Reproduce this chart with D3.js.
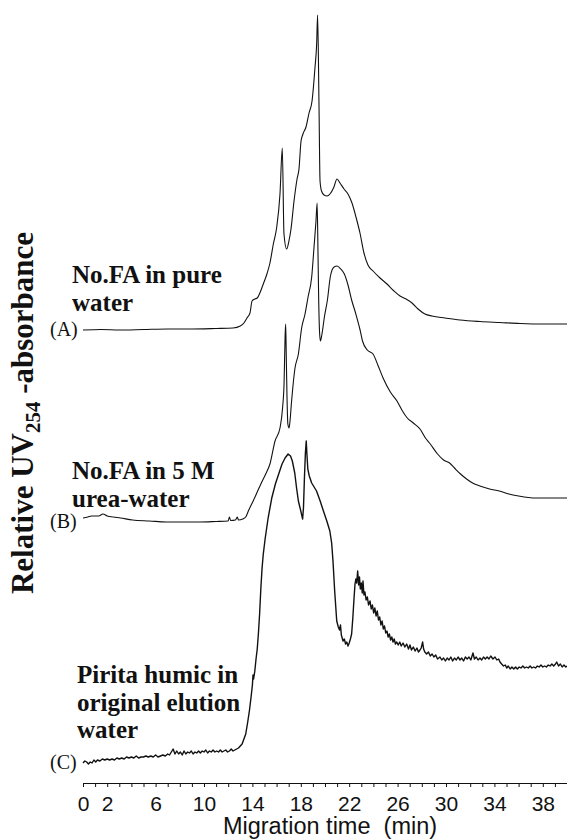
<!DOCTYPE html>
<html>
<head>
<meta charset="utf-8">
<script src="https://cdn.jsdelivr.net/npm/d3@7"></script>
<style>
  html, body { margin: 0; padding: 0; background: #fff; }
  svg { display: block; }
</style>
</head>
<body>
<svg id="chart" width="567" height="839"></svg>
<script>
// Electropherograms: [migration time (min), relative UV254 signal above each trace's own baseline]
const traceA = [
  [0,0],[1.5,0.5],[3,0],[5,0.5],[7,1],[9,1],[11,1.5],[12.4,2],[13.0,4],[13.3,7],[13.55,12],[13.8,17],
  [13.97,29],[14.2,31],[14.4,32],[14.65,38],[14.9,46],[15.2,56],[15.45,67],[15.73,86],[16.0,102],
  [16.28,136],[16.47,182],[16.61,96],[16.83,81],[17.02,89],[17.19,101],[17.44,129],[17.69,151],
  [17.85,161],[18.02,189],[18.18,196],[18.43,203],[18.68,217],[18.93,229],[19.17,262],[19.31,286],
  [19.39,315],[19.5,229],[19.59,149],[19.71,139],[19.92,135],[20.17,134],[20.41,136],[20.74,143],
  [20.99,151],[21.24,147],[21.57,141],[21.9,136],[22.23,127],[22.56,113],[22.89,97],[23.22,77],
  [23.55,65],[23.97,59],[24.55,52],[25.12,46],[25.7,39],[26.2,34],[26.7,31],[27.19,27],[27.69,21],
  [28.26,16],[28.84,14],[29.92,12],[31.16,10],[32.81,8.5],[34.46,7.5],[36.12,6.5],[38.18,6],[40,6]
];

const traceB = [
  [0,4],[0.4,5],[0.7,6],[1.0,6],[1.3,6],[1.65,8],[2.0,6],[2.5,5],[3.1,4],[4.1,2],[5.5,1],[6.9,0],
  [8.5,0],[9.7,0],[11,0.5],[12.0,1],[12.1,5],[12.2,1.5],[12.6,2],[12.75,5],[12.85,2],[13.2,3],
  [13.45,5],[13.7,12],[14.1,22],[14.4,30],[14.7,38],[15.1,48],[15.45,58],[15.87,81],[16.28,94],
  [16.5,115],[16.62,140],[16.7,185],[16.75,198],[16.8,165],[16.86,125],[16.93,98],[17.03,94],
  [17.1,100],[17.24,121],[17.52,154],[17.8,168],[18.07,194],[18.35,208],[18.6,225],[18.9,245],
  [19.1,276],[19.25,300],[19.35,319],[19.42,270],[19.48,221],[19.55,190],[19.62,181],[19.75,188],
  [19.95,205],[20.2,222],[20.45,246],[20.75,255],[21.0,256],[21.3,253],[21.6,248],[21.9,237],
  [22.2,222],[22.55,208],[22.9,192],[23.1,181],[23.5,172],[23.97,168],[24.4,156],[24.8,144],
  [25.4,130],[25.95,121],[26.4,111],[26.8,104],[27.3,99],[27.85,93],[28.3,84],[28.7,78],[29.3,68],
  [29.8,62],[30.3,59],[30.7,54],[31.2,48],[31.7,43],[32.2,39],[32.8,36],[33.6,33],[34.4,31],
  [35.2,28],[36.0,26],[36.8,24.5],[37.5,24],[38.5,24],[40,24]
];

const traceC = [
  [0,0],[0.15,2],[0.3,1],[0.45,-1],[0.6,1],[0.75,0],[0.9,3],[1.05,1],[1.2,3],[1.4,2],[1.6,4],[1.8,3],
  [2.0,4],[2.2,3],[2.4,4],[2.6,3],[2.8,5],[3.0,4],[3.2,5],[3.4,4],[3.6,6],[3.8,5],[4.0,6],[4.2,5],
  [4.4,7],[4.6,5],[4.8,6],[5.0,6],[5.2,7],[5.4,6],[5.6,7],[5.8,6],[6.0,8],[6.2,6],[6.4,7],[6.6,8],
  [6.8,7],[7.0,9],[7.15,8],[7.3,11],[7.45,14],[7.6,9],[7.75,12],[7.9,9],[8.05,11],[8.2,8],[8.35,12],
  [8.5,9],[8.65,11],[8.8,10],[8.95,12],[9.1,9],[9.25,11],[9.4,10],[9.55,12],[9.7,10],[9.85,12],
  [10.0,11],[10.15,13],[10.3,10],[10.45,12],[10.6,11],[10.75,13],[10.9,11],[11.05,12],[11.2,11],
  [11.35,13],[11.5,11],[11.65,12],[11.8,13],[11.95,11],[12.1,12],[12.25,14],[12.4,12],[12.55,13],
  [12.7,14],[12.85,15],[13.0,17],[13.15,19],[13.3,24],[13.45,29],[13.6,40],[13.75,52],[13.9,67],
  [14.0,78],[14.05,88],[14.1,84],[14.2,92],[14.3,104],[14.4,114],[14.5,130],[14.6,150],[14.7,175],
  [14.8,195],[14.9,209],[15.05,224],[15.3,245],[15.6,265],[15.9,279],[16.2,290],[16.45,299],
  [16.7,305],[16.95,309],[17.15,307],[17.3,302],[17.5,290],[17.65,275],[17.8,262],[18.0,252],
  [18.15,244],[18.22,255],[18.3,285],[18.38,310],[18.45,322],[18.5,310],[18.58,294],[18.7,287],
  [18.9,280],[19.1,276],[19.3,272],[19.6,262],[19.87,252],[20.15,242],[20.4,232],[20.55,220],
  [20.66,202],[20.8,172],[20.97,142],[21.1,136],[21.2,133],[21.28,138],[21.35,128],[21.49,122],
  [21.6,124],[21.7,119],[21.8,121],[21.9,117],[22.0,120],[22.1,124],[22.2,129],[22.3,145],[22.4,165],
  [22.48,179],[22.55,184],[22.62,180],[22.7,192],[22.78,178],[22.85,186],[22.92,174],[23.0,180],
  [23.08,170],[23.14,182],[23.22,168],[23.3,171],[23.4,163],[23.5,166],[23.6,158],[23.72,162],
  [23.82,154],[23.92,158],[24.02,150],[24.12,155],[24.22,147],[24.32,152],[24.42,143],[24.52,146],
  [24.62,138],[24.72,142],[24.82,134],[24.92,137],[25.02,130],[25.12,132],[25.22,126],[25.32,129],
  [25.42,123],[25.52,126],[25.62,121],[25.72,124],[25.82,119],[25.93,121],[26.05,118],[26.18,121],
  [26.3,117],[26.45,120],[26.6,116],[26.75,119],[26.9,114],[27.02,118],[27.15,113],[27.3,116],
  [27.45,112],[27.6,115],[27.72,111],[27.85,113],[27.95,115],[28.07,121],[28.15,114],[28.25,111],
  [28.4,109],[28.55,111],[28.7,107],[28.85,109],[29.0,106],[29.15,108],[29.3,104],[29.5,106],
  [29.65,103],[29.8,105],[29.95,102],[30.1,105],[30.25,103],[30.4,106],[30.55,102],[30.7,105],
  [30.85,103],[31.0,106],[31.16,103],[31.3,105],[31.45,102],[31.6,106],[31.75,104],[31.9,106],
  [32.05,103],[32.23,110],[32.35,104],[32.5,106],[32.65,103],[32.81,105],[32.95,103],[33.1,106],
  [33.25,104],[33.4,106],[33.55,104],[33.7,107],[33.88,104],[34.05,106],[34.2,103],[34.35,104],
  [34.46,101],[34.6,99],[34.75,97],[34.9,98],[35.02,95],[35.15,97],[35.3,94],[35.45,96],[35.6,94],
  [35.75,96],[35.9,94],[36.05,96],[36.2,95],[36.35,97],[36.5,95],[36.65,96],[36.8,95],[36.95,97],
  [37.1,95],[37.25,96],[37.4,95],[37.55,97],[37.7,96],[37.85,98],[38.0,96],[38.15,97],[38.3,96],
  [38.45,98],[38.6,97],[38.75,99],[38.9,97],[39.05,99],[39.15,101],[39.3,97],[39.45,99],[39.6,96],
  [39.75,98],[39.9,96],[40.0,97]
];

// Vertical offsets that stack the three traces
const traceOffsets = [453, 261, 20];
const traceIds = ["(A)", "(B)", "(C)"];
const traceNotes = [
  ["No.FA in pure", "water"],
  ["No.FA in 5 M", "urea-water"],
  ["Pirita humic in", "original elution", "water"]
];

const minorTicks = d3.range(0, 41, 1);
const tickLabels = [0, 2, 6, 10, 14, 18, 22, 26, 30, 34, 38];

const svg = d3.select("#chart");
const x = d3.scaleLinear().domain([0, 40]).range([83, 567]);
const y = d3.scaleLinear().domain([0, 782]).range([783, 1]);

// Traces
const traces = [traceA, traceB, traceC];
traces.forEach((tr, i) => {
  const off = traceOffsets[i];
  const line = d3.line()
    .x(d => x(d[0]))
    .y(d => y(d[1] + off))
    .curve(i === 2 ? d3.curveLinear : d3.curveMonotoneX);
  svg.append("path")
    .datum(tr)
    .attr("fill", "none")
    .attr("stroke", "#111")
    .attr("stroke-width", i === 2 ? 1.4 : 1.1)
    .attr("stroke-linejoin", "round")
    .attr("d", line);
});

// Trace identifiers and descriptions
const noteX = [72, 72, 77];
const noteBase = [283, 479, 683];
traceIds.forEach((id, i) => {
  svg.append("text")
    .attr("x", 50)
    .attr("y", y(traceOffsets[i]) + 6)
    .attr("font-family", "'Liberation Serif', 'Times New Roman', serif")
    .attr("font-size", 20)
    .attr("fill", "#111")
    .text(id);
  const t = svg.append("text")
    .attr("font-family", "'Liberation Serif', 'Times New Roman', serif")
    .attr("font-weight", "bold")
    .attr("font-size", 25)
    .attr("fill", "#111");
  traceNotes[i].forEach((ln, j) => {
    t.append("tspan").attr("x", noteX[i]).attr("y", noteBase[i] + j * 27.5).text(ln);
  });
});

// X axis
const axis = d3.axisBottom(x)
  .tickValues(minorTicks)
  .tickSize(4)
  .tickSizeOuter(0)
  .tickPadding(9)
  .tickFormat(d => tickLabels.includes(d) ? d : "");
const gx = svg.append("g").attr("transform", "translate(0,783)").call(axis);
gx.selectAll("path, line").attr("stroke", "#111").attr("stroke-width", 1);
gx.selectAll("text")
  .attr("font-family", "'Liberation Sans', Arial, sans-serif")
  .attr("font-size", 21)
  .attr("fill", "#111");

svg.append("text")
  .attr("x", 330)
  .attr("y", 834)
  .attr("text-anchor", "middle")
  .style("white-space", "pre")
  .attr("font-family", "'Liberation Sans', Arial, sans-serif")
  .attr("font-size", 23.5)
  .attr("fill", "#111")
  .text("Migration time  (min)");

// Y axis title with subscript
const yt = svg.append("text")
  .attr("transform", "translate(33,413) rotate(-90)")
  .attr("text-anchor", "middle")
  .attr("font-family", "'Liberation Serif', 'Times New Roman', serif")
  .attr("font-weight", "bold")
  .attr("font-size", 31)
  .attr("fill", "#111");
yt.append("tspan").text("Relative UV");
yt.append("tspan").attr("font-size", 21).attr("dy", 7).text("254");
yt.append("tspan").attr("dy", -7).text(" -absorbance");
</script>
</body>
</html>
